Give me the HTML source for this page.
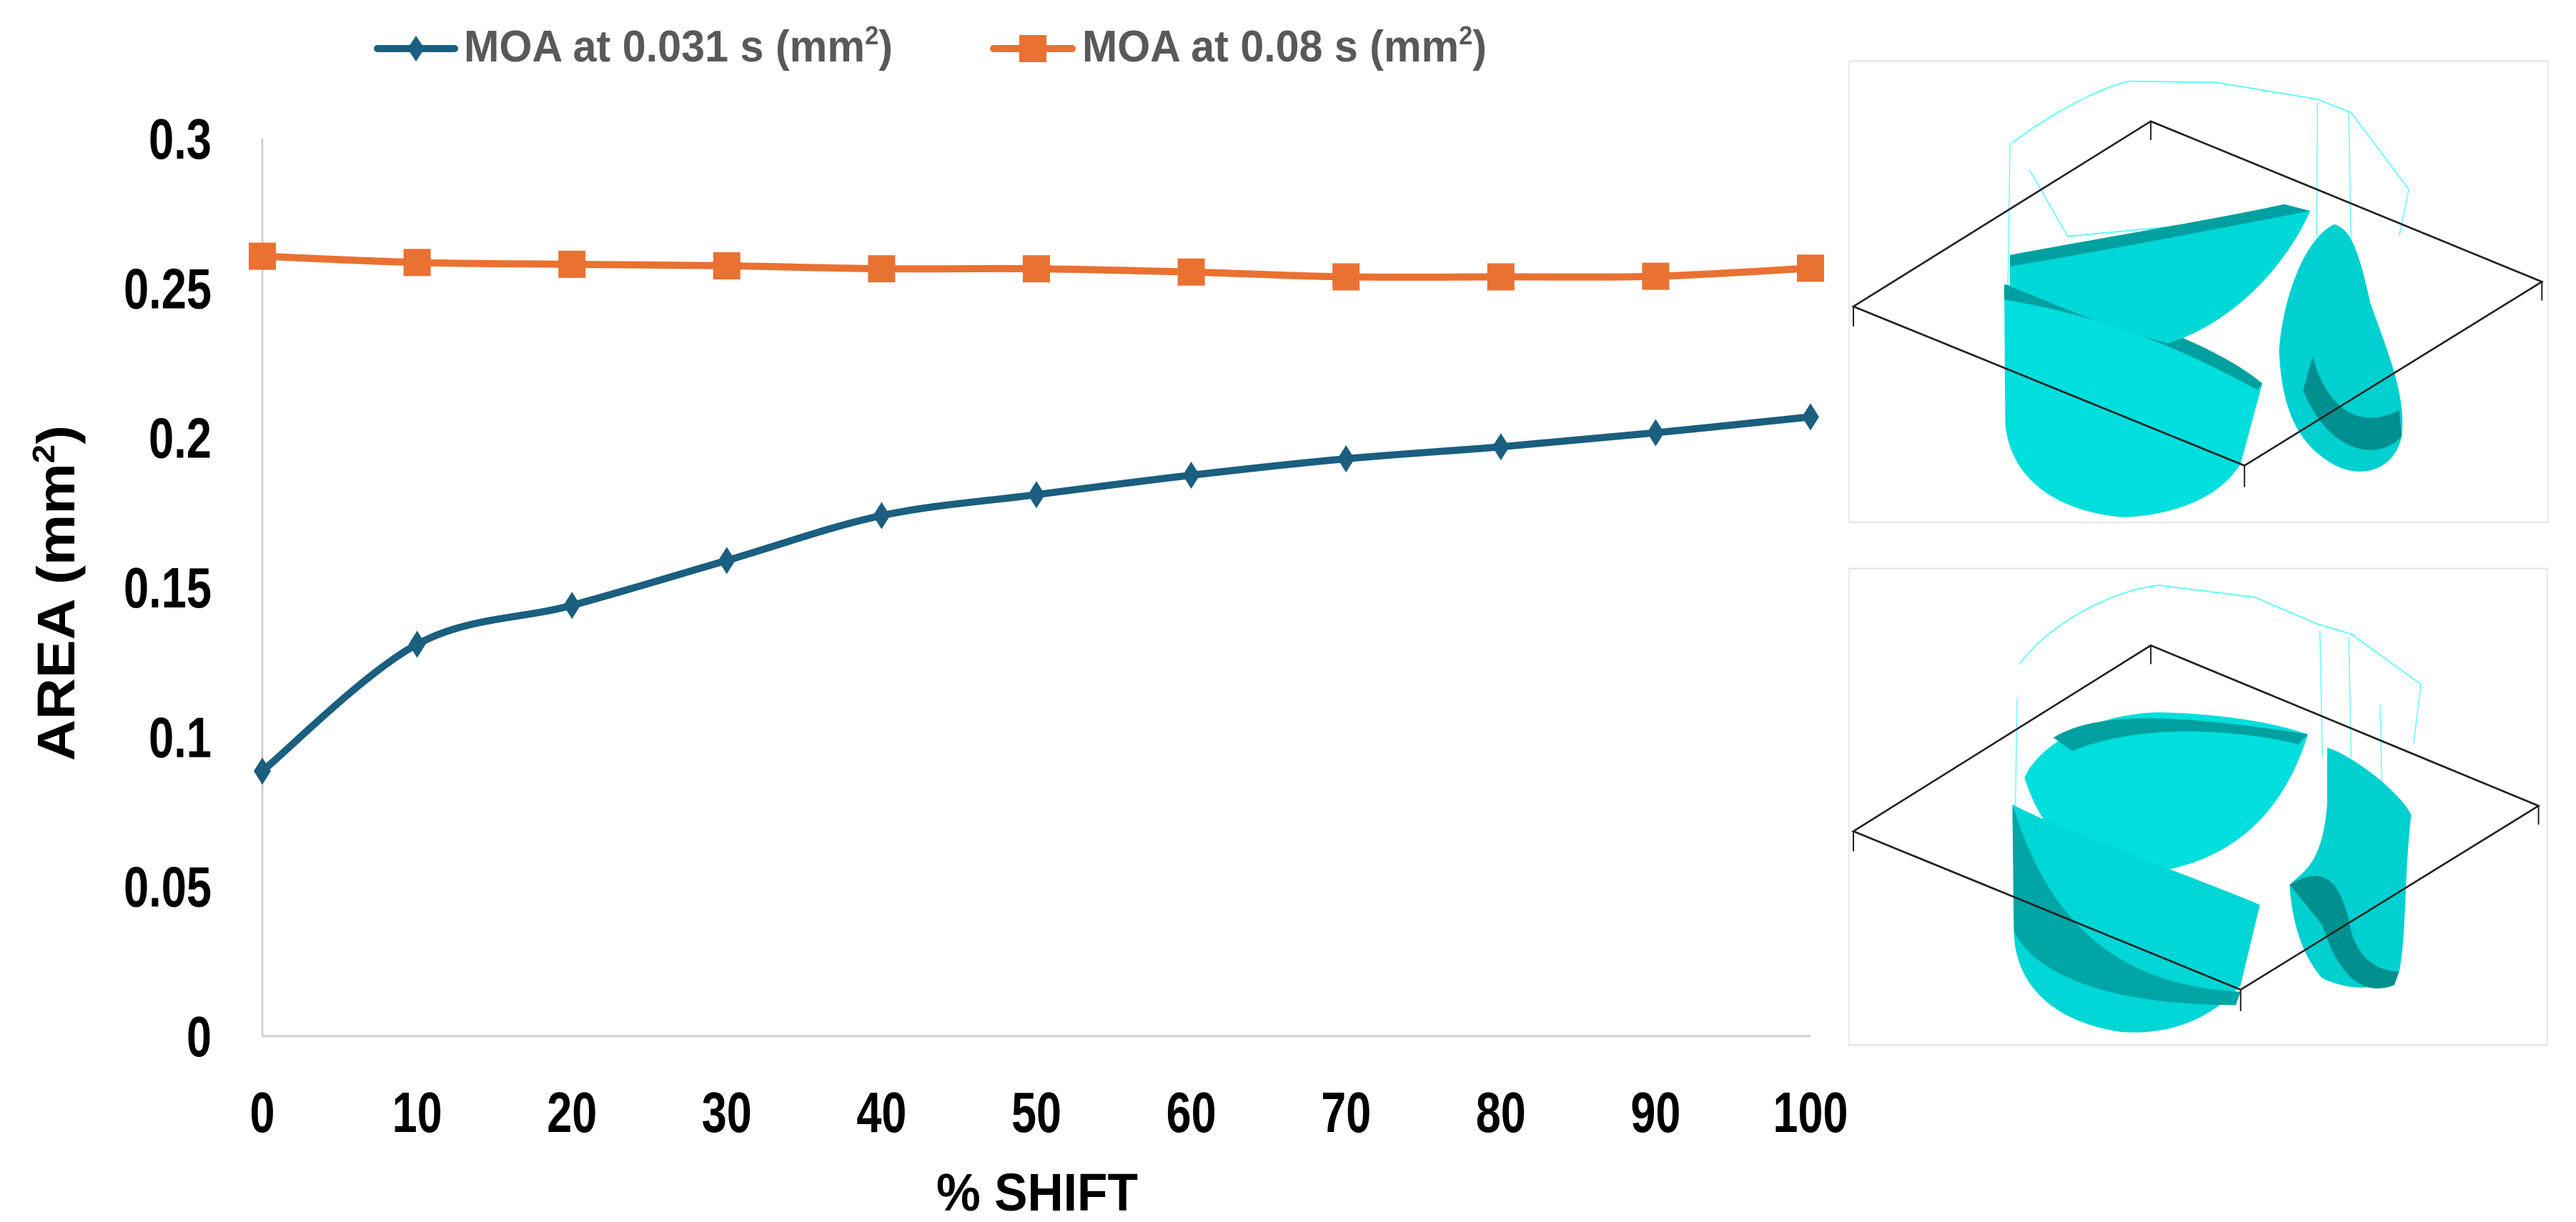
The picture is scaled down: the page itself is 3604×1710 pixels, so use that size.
<!DOCTYPE html>
<html><head><meta charset="utf-8"><style>
html,body{margin:0;padding:0;background:#fff;}
svg{display:block;}
text{font-family:"Liberation Sans",sans-serif;font-weight:bold;}
</style></head><body>
<svg id="chart" width="3604" height="1710" viewBox="0 0 3604 1710" xmlns="http://www.w3.org/2000/svg">
<g id="legend">
  <g>
    <line x1="528" y1="68" x2="636" y2="68" stroke="#1a5e80" stroke-width="10" stroke-linecap="round"/>
    <path d="M582,50 L594,68 L582,86 L570,68 Z" fill="#1a5e80"/>
    <text x="649" y="86" font-size="62" fill="#595959" textLength="600" lengthAdjust="spacingAndGlyphs">MOA at 0.031 s (mm<tspan dy="-24" font-size="36">2</tspan><tspan dy="24">)</tspan></text>
  </g>
  <g>
    <line x1="1390" y1="68" x2="1500" y2="68" stroke="#e97132" stroke-width="10" stroke-linecap="round"/>
    <rect x="1426" y="49" width="38" height="38" fill="#e97132"/>
    <text x="1514" y="86" font-size="62" fill="#595959" textLength="566" lengthAdjust="spacingAndGlyphs">MOA at 0.08 s (mm<tspan dy="-24" font-size="36">2</tspan><tspan dy="24">)</tspan></text>
  </g>
</g>
<g id="axes"></g>
<g id="series"></g>
<text x="1451" y="1694" font-size="74" text-anchor="middle" textLength="282" lengthAdjust="spacingAndGlyphs">% SHIFT</text>
<text transform="translate(104,830) rotate(-90)" font-size="74" text-anchor="middle" textLength="470" lengthAdjust="spacingAndGlyphs">AREA (mm<tspan dy="-28" font-size="44">2</tspan><tspan dy="28">)</tspan></text>

<svg x="2550" y="50" width="1054" height="1450" viewBox="0 0 1568 1550" preserveAspectRatio="none">
  <g>
    <rect x="55" y="38" width="1455" height="690" fill="#fff" stroke="#e0e0e0" stroke-width="2"/>
    <path d="M395,160 C450,130 560,80 640,68 L820,70 1030,95 1100,115 1220,230 1200,300" fill="none" stroke="#5ff" stroke-width="2"/>
    <path d="M390,160 L385,400 M1030,100 L1028,300 M1095,115 L1100,330 M430,200 L510,300 L960,270" fill="none" stroke="#5ff" stroke-width="2"/>
    <path d="M378,372 C500,390 780,440 915,520 L870,640 C820,700 700,720 620,720 C480,710 390,660 380,580 Z" fill="#00dede"/>
    <path d="M378,372 C500,390 780,440 915,520 L905,530 C780,480 600,420 378,395 Z" fill="#00a0a0"/>
    <path d="M390,328 C600,300 850,270 1015,262 C960,350 850,430 720,460 C600,440 480,400 390,375 Z" fill="#00d8d8"/>
    <path d="M390,328 C600,300 850,270 960,252 L1015,262 C850,285 600,320 390,345 Z" fill="#00a0a0"/>
    <path d="M1065,282 C1100,290 1115,320 1140,400 C1180,480 1215,540 1205,600 C1190,650 1120,665 1060,640 C990,610 955,560 950,470 C960,380 1010,300 1065,282 Z" fill="#00d0d0"/>
    <path d="M1020,480 C1050,560 1120,590 1200,560 L1205,600 C1150,640 1050,620 1000,530 Z" fill="#008f8f"/>
    <path d="M683,128 L1497,368 L878,643 L64,405 Z M683,128 v28 M1497,368 v28 M878,643 v32 M64,405 v30" fill="none" stroke="#222" stroke-width="3"/>
  </g>
  <g>
    <rect x="55" y="797" width="1453" height="713" fill="#fff" stroke="#e0e0e0" stroke-width="2"/>
    <path d="M410,940 C470,880 600,830 700,822 L900,840 1030,880 1100,895 1245,970 1230,1060" fill="none" stroke="#5ff" stroke-width="2"/>
    <path d="M405,990 L400,1200 M1035,890 L1040,1080 M1095,900 L1100,1080 M1160,1000 L1165,1150" fill="none" stroke="#5ff" stroke-width="2"/>
    <path d="M420,1110 C450,1060 560,1015 700,1012 C850,1015 950,1030 1010,1045 C960,1160 860,1230 700,1250 C560,1250 470,1220 420,1110 Z" fill="#00dede"/>
    <path d="M480,1050 C560,1015 700,1010 1010,1045 L990,1060 C850,1035 650,1030 520,1070 Z" fill="#00a0a0"/>
    <path d="M395,1150 C500,1190 780,1260 910,1300 L870,1420 C800,1480 700,1495 620,1490 C480,1475 400,1420 398,1340 Z" fill="#00d6d6"/>
    <path d="M395,1150 C460,1300 580,1420 870,1430 L860,1450 C580,1450 440,1400 398,1340 Z" fill="#00a5a5"/>
    <path d="M1050,1065 C1100,1075 1200,1130 1225,1165 C1210,1260 1215,1350 1200,1400 C1170,1430 1100,1430 1040,1410 C990,1370 975,1310 972,1270 C1000,1250 1040,1240 1050,1150 Z" fill="#00d0d0"/>
    <path d="M972,1270 C1040,1240 1080,1260 1100,1340 C1120,1390 1170,1400 1200,1400 L1190,1420 C1120,1440 1070,1400 1040,1330 Z" fill="#008f8f"/>
    <path d="M683,912 L1490,1152 L870,1427 L64,1190 Z M683,912 v28 M1490,1152 v28 M870,1427 v32 M64,1190 v30" fill="none" stroke="#222" stroke-width="3"/>
  </g>
</svg>
</svg>
<script>
const categories = [0,10,20,30,40,50,60,70,80,90,100];
const series031 = [0.0886,0.131,0.144,0.159,0.174,0.181,0.1875,0.193,0.197,0.2017,0.207];
const series08 = [0.2607,0.2586,0.258,0.2575,0.2565,0.2565,0.2554,0.2538,0.2538,0.254,0.2567];
const yTicks = [0,0.05,0.1,0.15,0.2,0.25,0.3];
const yTickLabels = ["0","0.05","0.1","0.15","0.2","0.25","0.3"];

const NS="http://www.w3.org/2000/svg";
const X0=367,X1=2533,Y0=1450,Y1=194;
function xs(v){return X0+(v-0)/(100-0)*(X1-X0);}
function ys(v){return Y0-(v-0)/(0.3-0)*(Y0-Y1);}
function mk(tag,attrs,parent){const e=document.createElementNS(NS,tag);for(const k in attrs)e.setAttribute(k,attrs[k]);parent.appendChild(e);return e;}
function labelLen(s){let w=0;for(const ch of s)w+=(ch==='.'?18:35);return w;}

const axes=document.getElementById('axes');
let ax=mk('line',{x1:X0,y1:Y1,x2:X0,y2:Y0,stroke:'#d0d0d0','stroke-width':3},axes);


let bx=mk('line',{x1:X0,y1:Y0,x2:X1,y2:Y0,stroke:'#d0d0d0','stroke-width':3},axes);


yTicks.forEach((t,i)=>{
  const s=yTickLabels[i];
  const tx=mk('text',{x:296,y:ys(t)+28,'font-size':80,'text-anchor':'end',textLength:labelLen(s),lengthAdjust:'spacingAndGlyphs'},axes);
  tx.textContent=s;
  
  
});
categories.forEach(c=>{
  const s=String(c);
  const tx=mk('text',{x:xs(c),y:1584,'font-size':80,'text-anchor':'middle',textLength:labelLen(s),lengthAdjust:'spacingAndGlyphs'},axes);
  tx.textContent=s;
  
  
});

function smoothPath(pts){
  let d='M'+pts[0][0]+','+pts[0][1];
  for(let i=0;i<pts.length-1;i++){
    const p0=pts[i-1]||pts[i],p1=pts[i],p2=pts[i+1],p3=pts[i+2]||p2;
    const t=1/6;
    d+=' C'+(p1[0]+(p2[0]-p0[0])*t)+','+(p1[1]+(p2[1]-p0[1])*t)+' '+(p2[0]-(p3[0]-p1[0])*t)+','+(p2[1]-(p3[1]-p1[1])*t)+' '+p2[0]+','+p2[1];
  }
  return d;
}
const sg=document.getElementById('series');
const p08=categories.map((c,i)=>[xs(c),ys(series08[i])]);
const p031=categories.map((c,i)=>[xs(c),ys(series031[i])]);
const l08=mk('path',{d:smoothPath(p08),fill:'none',stroke:'#e97132','stroke-width':10,'stroke-linejoin':'round'},sg);


p08.forEach(p=>{
  const r=mk('rect',{x:p[0]-19,y:p[1]-19,width:38,height:38,fill:'#e97132'},sg);
  
  
});
const l031=mk('path',{d:smoothPath(p031),fill:'none',stroke:'#1a5e80','stroke-width':10,'stroke-linejoin':'round'},sg);


p031.forEach(p=>{
  const r=mk('path',{d:'M'+p[0]+','+(p[1]-19)+' L'+(p[0]+12)+','+p[1]+' L'+p[0]+','+(p[1]+19)+' L'+(p[0]-12)+','+p[1]+' Z',fill:'#1a5e80'},sg);
  
  
});
</script>
</body></html>
